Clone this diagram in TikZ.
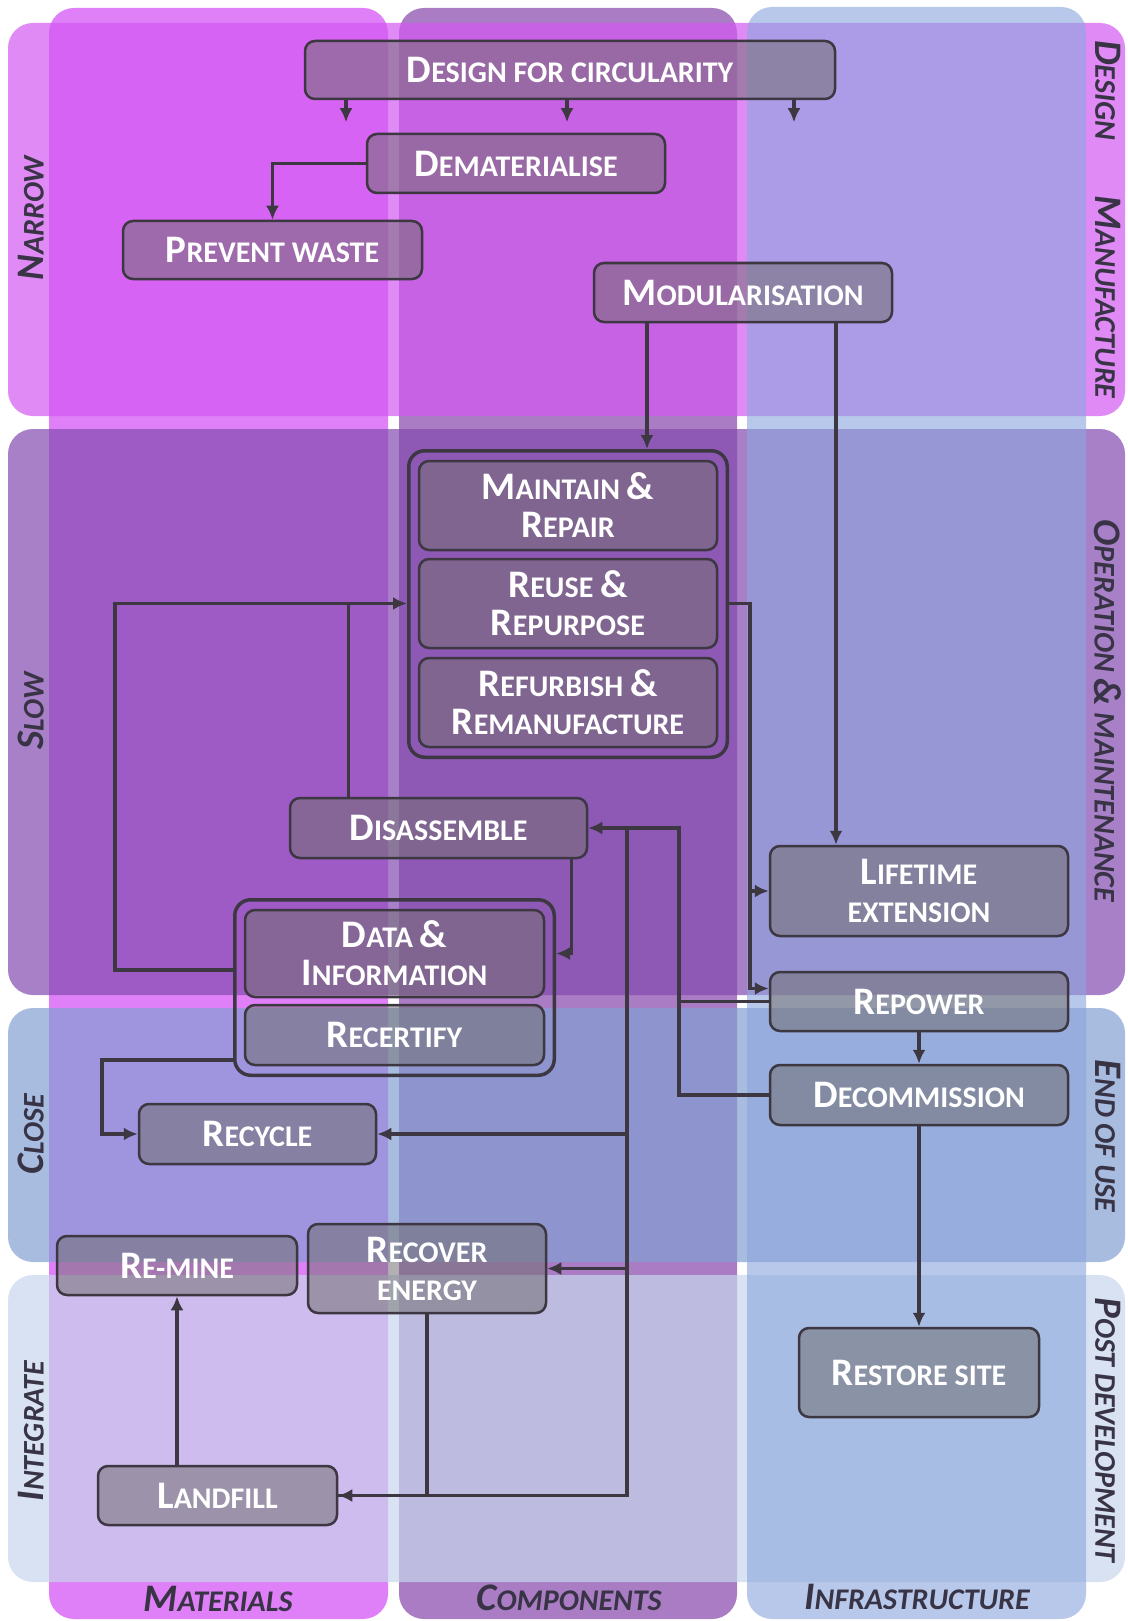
\documentclass[tikz,border=0pt]{standalone}
\usepackage{fontspec}
\setmainfont{Carlito}
\usetikzlibrary{arrows.meta,fit}

\definecolor{matcol}{RGB}{224,128,248}
\definecolor{compcol}{RGB}{169,124,196}
\definecolor{infracol}{RGB}{140,166,221}
\definecolor{narrowcol}{RGB}{211,88,241}
\definecolor{slowcol}{RGB}{131,74,176}
\definecolor{closecol}{RGB}{131,159,211}
\definecolor{integcol}{RGB}{199,214,236}
\definecolor{boxfill}{RGB}{115,112,115}
\definecolor{linecol}{RGB}{60,55,65}
\definecolor{labelcol}{RGB}{56,52,70}

% larger first letter for the small caps look
\newcommand\capl[1]{{\fontsize{39}{38}\selectfont #1}}

\tikzset{
  stage/.style={rectangle, rounded corners=10pt, draw=linecol, line width=2.5pt,
    fill=boxfill, fill opacity=0.55, text opacity=1, text=white, align=center,
    inner sep=0pt, font=\fontsize{30}{38}\selectfont\bfseries},
  group/.style={rectangle, rounded corners=16pt, draw=linecol, line width=3.5pt, inner sep=9pt},
  lane/.style={text=labelcol, inner sep=1pt, font=\fontsize{30}{38}\selectfont\bfseries\itshape},
  flow/.style={draw=linecol, line width=3.5pt}
}

\begin{document}
\begin{tikzpicture}[x=1pt, y=-1pt, >={Latex[length=14pt,width=13pt]}]
  \useasboundingbox (0,0) rectangle (1127,1621);

  % columns
  \fill[matcol, rounded corners=25pt] (49,8) rectangle (388,1619);
  \fill[compcol, rounded corners=25pt] (399,8) rectangle (737,1619);

  % rows
  \fill[narrowcol, fill opacity=0.7, rounded corners=25pt] (8,23) rectangle (1125,416);
  \fill[slowcol, fill opacity=0.7, rounded corners=25pt] (8,429) rectangle (1125,995);
  \fill[closecol, fill opacity=0.7, rounded corners=25pt] (8,1008) rectangle (1125,1262);
  \fill[integcol, fill opacity=0.7, rounded corners=25pt] (8,1275) rectangle (1125,1582);

  \fill[infracol, fill opacity=0.62, rounded corners=25pt] (747,7) rectangle (1086,1619);

  % lane labels
  \node[lane, rotate=90] (lnarrow) at (31,218) {\capl{N}ARROW};
  \node[lane, rotate=90] (lslow) at (31,711) {\capl{S}LOW};
  \node[lane, rotate=90] (lclose) at (31,1134) {\capl{C}LOSE};
  \node[lane, rotate=90] (linteg) at (31,1431) {\capl{I}NTEGRATE};
  \node[lane, rotate=-90] (ldesign) at (1108,90) {\capl{D}ESIGN};
  \node[lane, rotate=-90] (lmanuf) at (1108,297) {\capl{M}ANUFACTURE};
  \node[lane, rotate=-90] (loper) at (1108,711) {\capl{O}PERATION \capl{\&} MAINTENANCE};
  \node[lane, rotate=-90] (lend) at (1108,1136) {\capl{E}ND OF USE};
  \node[lane, rotate=-90] (lpost) at (1108,1430) {\capl{P}OST DEVELOPMENT};
  \node[lane] (lmat) at (218,1599) {\capl{M}ATERIALS};
  \node[lane] (lcomp) at (569,1598) {\capl{C}OMPONENTS};
  \node[lane] (linfra) at (917,1597) {\capl{I}NFRASTRUCTURE};

  % strategies
  \node[stage, minimum width=530pt, minimum height=58pt] (design) at (570,70) {\capl{D}ESIGN FOR CIRCULARITY};
  \node[stage, minimum width=298pt, minimum height=59pt] (demat) at (516,163.5) {\capl{D}EMATERIALISE};
  \node[stage, minimum width=299pt, minimum height=58pt] (prevent) at (272.5,250) {\capl{P}REVENT WASTE};
  \node[stage, minimum width=298pt, minimum height=59pt] (modular) at (743,292.5) {\capl{M}ODULARISATION};
  \node[stage, minimum width=298pt, minimum height=89pt] (maintain) at (568,505.5) {\capl{M}AINTAIN \capl{\&}\\\capl{R}EPAIR};
  \node[stage, minimum width=298pt, minimum height=89pt] (reuse) at (568,603.5) {\capl{R}EUSE \capl{\&}\\\capl{R}EPURPOSE};
  \node[stage, minimum width=298pt, minimum height=89pt] (refurb) at (568,702.5) {\capl{R}EFURBISH \capl{\&}\\\capl{R}EMANUFACTURE};
  \node[stage, minimum width=297pt, minimum height=60pt] (disasm) at (438.5,828) {\capl{D}ISASSEMBLE};
  \node[stage, minimum width=299pt, minimum height=87pt] (datainfo) at (394.5,953.5) {\capl{D}ATA \capl{\&}\\\capl{I}NFORMATION};
  \node[stage, minimum width=299pt, minimum height=60pt] (recert) at (394.5,1035) {\capl{R}ECERTIFY};
  \node[stage, minimum width=298pt, minimum height=90pt] (lifetime) at (919,891) {\capl{L}IFETIME\\EXTENSION};
  \node[stage, minimum width=298pt, minimum height=59pt] (repower) at (919,1001.5) {\capl{R}EPOWER};
  \node[stage, minimum width=298pt, minimum height=60pt] (decom) at (919,1095) {\capl{D}ECOMMISSION};
  \node[stage, minimum width=240pt, minimum height=89pt] (restore) at (919,1372.5) {\capl{R}ESTORE SITE};
  \node[stage, minimum width=237pt, minimum height=60pt] (recycle) at (257.5,1134) {\capl{R}ECYCLE};
  \node[stage, minimum width=240pt, minimum height=59pt] (remine) at (177,1265.5) {\capl{R}E-MINE};
  \node[stage, minimum width=238pt, minimum height=89pt] (recover) at (427,1268.5) {\capl{R}ECOVER\\ENERGY};
  \node[stage, minimum width=239pt, minimum height=59pt] (landfill) at (217.5,1495.5) {\capl{L}ANDFILL};

  \node[group, fit=(maintain)(refurb)] (grp1) {};
  \node[group, fit=(datainfo)(recert)] (grp2) {};

  % bus lines
  \coordinate (loopL) at (115,970);
  \coordinate (recL) at (102,1060);
  \coordinate (busA) at (750,0);
  \coordinate (busB) at (679,0);
  \coordinate (busC) at (627,0);

  % connectors
  \foreach \dx in {-224,-3,224}
    \draw[flow, ->] ([xshift=\dx pt]design.south) -- ++(0,22);
  \draw[flow, ->] (demat.west) -| (prevent.north);
  \draw[flow, ->] ([xshift=-96pt]modular.south) -- ([xshift=-96pt]modular.south |- grp1.north);
  \draw[flow, ->] ([xshift=93pt]modular.south) -- ([xshift=93pt]modular.south |- lifetime.north);
  \draw[flow, ->] (grp2.west |- loopL) -- (loopL) |- (grp1.west |- reuse);
  \draw[flow] ([xshift=-90pt]disasm.north) -- ([xshift=-90pt]disasm.north |- reuse);
  \draw[flow, ->] (grp1.east |- reuse) -- (busA |- reuse) |- (lifetime.west);
  \draw[flow, ->] (busA |- lifetime.west) |- ([yshift=13pt]repower.west);
  \draw[flow] (repower.west) -- (busB |- repower.west);
  \draw[flow, ->] (decom.west) -| (busB |- disasm.east) -- (disasm.east);
  \draw[flow, ->] (busC |- disasm.east) |- (landfill.east);
  \draw[flow, ->] (busC |- recycle.east) -- (recycle.east);
  \draw[flow, ->] (busC |- recover.east) -- (recover.east);
  \draw[flow] (recover.south) |- (landfill.east);
  \draw[flow, ->] ([xshift=133pt]disasm.south) |- (grp2.east |- datainfo);
  \draw[flow, ->] (grp2.west |- recL) -- (recL) |- (recycle.west);
  \draw[flow, ->] (landfill.north -| remine) -- (remine.south);
  \draw[flow, ->] (repower) -- (decom);
  \draw[flow, ->] (decom) -- (restore);
\end{tikzpicture}
\end{document}
